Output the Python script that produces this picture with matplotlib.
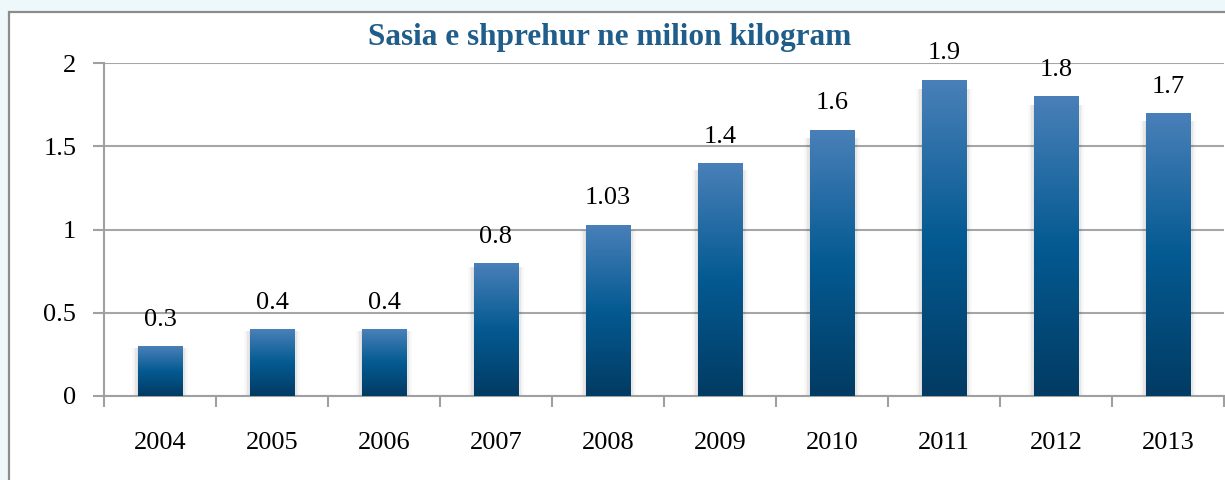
import matplotlib
matplotlib.use("Agg")
import matplotlib.pyplot as plt
import numpy as np
from matplotlib.patches import Rectangle
from matplotlib.colors import LinearSegmentedColormap

years = ["2004", "2005", "2006", "2007", "2008", "2009", "2010", "2011", "2012", "2013"]
values = [0.3, 0.4, 0.4, 0.8, 1.03, 1.4, 1.6, 1.9, 1.8, 1.7]
labels = ["0.3", "0.4", "0.4", "0.8", "1.03", "1.4", "1.6", "1.9", "1.8", "1.7"]
title = "Sasia e shprehur ne milion kilogram"

plt.rcParams['font.family'] = ['Liberation Serif', 'DejaVu Serif']

W, H = 1225, 480
fig = plt.figure(figsize=(W / 100, H / 100), dpi=100)
fig.patch.set_facecolor('#eef7fa')

# chart frame
frame = Rectangle((9 / W, -0.1), 1.2, 1.1 - 12 / H, transform=fig.transFigure,
                  facecolor='white', edgecolor='#8c8c8c', linewidth=1.6, zorder=-5)
fig.patches.append(frame)

ax = fig.add_axes([104 / W, 1 - 396 / H, 1120 / W, (396 - 63) / H])
ax.set_facecolor('none')
x = np.arange(len(years))

cmap = LinearSegmentedColormap.from_list('g', ['#023b63', '#045a92', '#4a80b9'])
grad = np.linspace(0, 1, 256).reshape(-1, 1)
bw = 0.4
bars = ax.bar(x, values, width=bw, color='none', edgecolor='none', zorder=3)
for b, v in zip(bars, values):
    # soft side shadow
    for k, a in [(0.05, 0.025), (0.035, 0.03), (0.02, 0.035), (0.008, 0.04)]:
        ax.add_patch(Rectangle((b.get_x() - k, 0), bw + 2 * k, v * 0.97,
                               facecolor='#000000', alpha=a, edgecolor='none', zorder=2))
    im = ax.imshow(grad, extent=[b.get_x(), b.get_x() + bw, 0, v], origin='lower',
                   cmap=cmap, aspect='auto', zorder=3)
    im.set_clip_path(b)
ax.set_aspect('auto')
ax.set_xlim(-0.5, len(years) - 0.5)
ax.set_ylim(0, 2)

for xi, v, lab in zip(x, values, labels):
    ax.annotate(lab, (xi, v), xytext=(0, 11), textcoords='offset points',
                ha='center', va='bottom', fontsize=19, color='black', zorder=5)

ax.set_yticks([0, 0.5, 1, 1.5, 2])
ax.set_yticklabels(["0", "0.5", "1", "1.5", "2"])
ax.yaxis.grid(True, color='#a6a6a6', linewidth=1.5, zorder=1)
ax.set_axisbelow(True)
ax.set_xticks(np.arange(-0.5, len(years), 1.0))
ax.set_xticklabels([])
ax.set_xticks(x, minor=True)
ax.set_xticklabels(years, minor=True)
ax.tick_params(axis='x', which='major', length=8, width=1.5, color='#a0a0a0', direction='out')
ax.tick_params(axis='x', which='minor', length=0, pad=26, labelsize=19)
ax.tick_params(axis='y', length=8, width=1.5, color='#a0a0a0', labelsize=19, pad=12)
for s in ['top', 'right']:
    ax.spines[s].set_visible(False)
for s in ['left', 'bottom']:
    ax.spines[s].set_color('#a0a0a0')
    ax.spines[s].set_linewidth(1.5)

fig.text(610 / W, 1 - 38 / H, title, ha='center', va='center', fontsize=22.5,
         fontweight='bold', color='#1f5d8a')

fig.savefig('out.png', dpi=100, facecolor=fig.get_facecolor())
